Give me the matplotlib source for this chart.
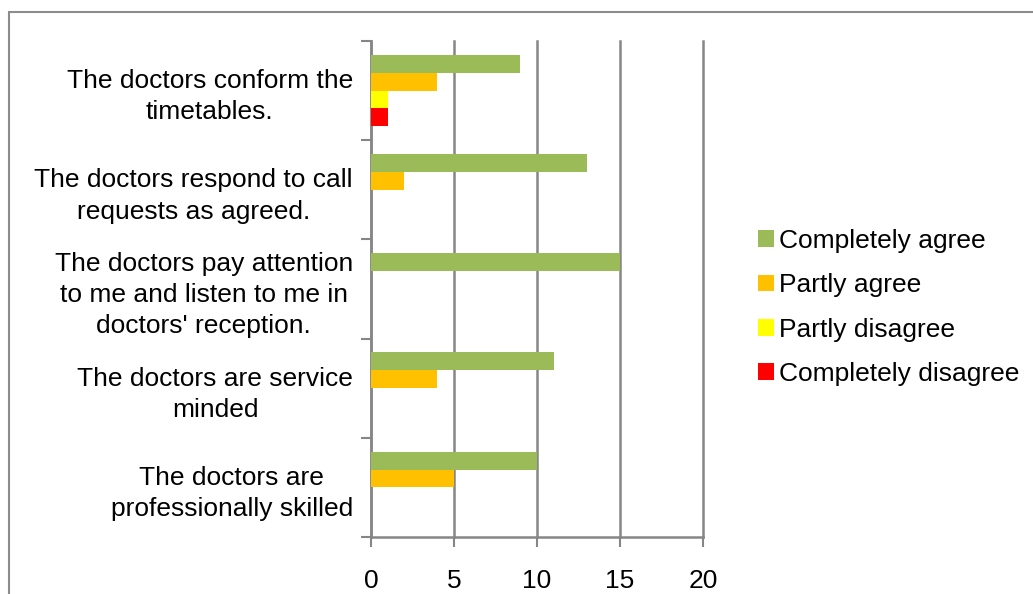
import matplotlib.pyplot as plt
import numpy as np
from matplotlib.patches import Rectangle
from matplotlib.ticker import FixedLocator

categories = [
    "The doctors conform the\ntimetables.",
    "The doctors respond to call\nrequests as agreed.",
    "The doctors pay attention\nto me and listen to me in\ndoctors' reception.",
    "The doctors are service\nminded",
    "The doctors are\nprofessionally skilled",
]
series = ["Completely agree", "Partly agree", "Partly disagree", "Completely disagree"]
completely_agree = [9, 13, 15, 11, 10]
partly_agree = [4, 2, 0, 4, 5]
partly_disagree = [1, 0, 0, 0, 0]
completely_disagree = [1, 0, 0, 0, 0]
colors = ["#9BBB59", "#FFC000", "#FFFF00", "#FF0000"]
x_ticks = [0, 5, 10, 15, 20]


def main():
    plt.rcParams["font.family"] = ["Liberation Sans", "DejaVu Sans"]
    fs = 19
    grey = "#868686"

    fig = plt.figure(figsize=(10.33, 5.94), dpi=100)
    ax = fig.add_axes([371 / 1033, 1 - 537 / 594, (703 - 371) / 1033, (537 - 41) / 594])

    values = [completely_agree, partly_agree, partly_disagree, completely_disagree]
    y = np.arange(len(categories))
    h = 0.18
    for i, (vals, name, col) in enumerate(zip(values, series, colors)):
        ax.barh(y + (i - 1.5) * h, vals, height=h, color=col, label=name, zorder=3)

    ax.set_xlim(0, 20)
    ax.set_ylim(len(categories) - 0.5, -0.5)

    ax.set_xticks(x_ticks)
    ax.set_xticklabels([str(v) for v in x_ticks], fontsize=fs)
    ax.tick_params(axis="x", length=7, width=1.5, color=grey, pad=16)
    ax.grid(axis="x", color=grey, linewidth=1.8, zorder=0)
    for line in ax.get_xgridlines():
        line.set_clip_on(False)

    ax.set_yticks(y)
    ax.set_yticklabels(categories, fontsize=fs, ha="right", multialignment="center",
                       linespacing=1.38)
    ax.tick_params(axis="y", which="major", length=0, pad=13)
    ax.yaxis.set_minor_locator(FixedLocator(np.arange(-0.5, len(categories), 1.0)))
    ax.tick_params(axis="y", which="minor", length=7, width=1.5, color=grey)

    for side in ["top", "right"]:
        ax.spines[side].set_visible(False)
    for side in ["left", "bottom"]:
        ax.spines[side].set_color(grey)
        ax.spines[side].set_linewidth(1.8)

    ax.legend(loc="upper left", bbox_to_anchor=(758 / 1033, 1 - 229 / 594),
              bbox_transform=fig.transFigure, frameon=False, fontsize=fs,
              handlelength=0.6, handleheight=0.6, handletextpad=0.2,
              labelspacing=0.77, borderpad=0, borderaxespad=0)

    # chart border
    fig.patches.append(Rectangle((9 / 1033, -0.1), 1.2, 1 - 12 / 594 + 0.1,
                                 transform=fig.transFigure, fill=False,
                                 edgecolor="#8C8C8C", linewidth=1.5))

    fig.savefig("out.png", dpi=100)


if __name__ == "__main__":
    main()
